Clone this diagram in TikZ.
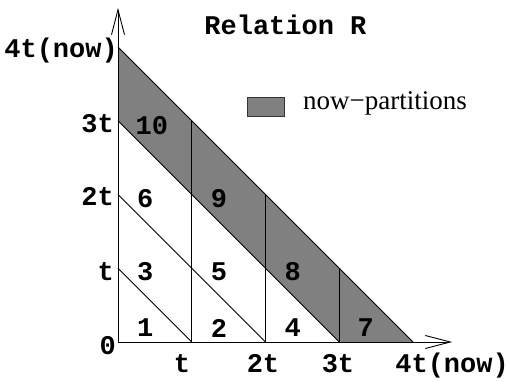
\documentclass[tikz,border=0pt]{standalone}
\usepackage{fontspec}
\setmainfont{Liberation Serif}
\setmonofont{Liberation Mono}
\usepackage{xcolor}
\definecolor{nowgray}{RGB}{128,128,128}
\usetikzlibrary{arrows.meta,calc}
\tikzset{
  axisline/.style={line width=0.9pt, -{Straight Barb[length=25pt,width=13pt,line width=0.9pt]}},
  gridline/.style={line width=0.9pt},
  nowband/.style={fill=nowgray},
  partlabel/.style={font=\fontsize{27}{30}\selectfont\ttfamily\bfseries, inner sep=0pt},
  ticklabel/.style={partlabel},
  legendbox/.style={fill=nowgray, draw=black!80, line width=0.9pt},
  legendtext/.style={font=\fontsize{27}{30}\selectfont, inner sep=0pt, anchor=base west},
}

\begin{document}
\begin{tikzpicture}[x=73.75pt, y=73.75pt]
  \useasboundingbox (-118pt,-40pt) rectangle (393pt,342pt);

  % grid points on both axes and on the now-line
  \coordinate (o) at (0,0);
  \foreach \k in {1,...,4} {
    \coordinate (x\k) at (\k,0);
    \coordinate (y\k) at (0,\k);
  }
  \foreach \k in {1,2,3} \coordinate (top\k) at (\k,4-\k);
  \coordinate (xend) at (4.53,0);
  \coordinate (yend) at (0,4.53);

  % shaded now-partitions
  \fill[nowband] (y3) -- (y4) -- (x4) -- (x3) -- cycle;

  % diagonals and verticals
  \foreach \k in {1,...,4} \draw[gridline] (y\k) -- (x\k);
  \foreach \k in {1,2,3} \draw[gridline] (x\k) -- (top\k);

  % axes
  \draw[axisline] (o) -- (xend);
  \draw[axisline] (o) -- (yend);

  % partition numbers
  \node[partlabel] (p1)  at (0.37,0.19) {1};
  \node[partlabel] (p2)  at (1.37,0.19) {2};
  \node[partlabel] (p4)  at (2.37,0.19) {4};
  \node[partlabel] (p7)  at (3.36,0.19) {7};
  \node[partlabel] (p3)  at (0.37,0.95) {3};
  \node[partlabel] (p5)  at (1.37,0.95) {5};
  \node[partlabel] (p8)  at (2.37,0.95) {8};
  \node[partlabel] (p6)  at (0.37,1.95) {6};
  \node[partlabel] (p9)  at (1.37,1.95) {9};
  \node[partlabel] (p10) at (0.46,2.94) {10};

  % tick labels
  \node[ticklabel, anchor=east] (l0) at (-2pt,-4pt) {0};
  \node[ticklabel, anchor=east] (ly1) at ($(y1)+(-4pt,-3pt)$) {t};
  \node[ticklabel, anchor=east] (ly2) at ($(y2)+(-4pt,-2pt)$) {2t};
  \node[ticklabel, anchor=east] (ly3) at ($(y3)+(-4pt,-3pt)$) {3t};
  \node[ticklabel, anchor=east] (ly4) at ($(y4)+(0pt,-4pt)$) {4t(now)};
  \node[ticklabel, anchor=base] (lx1) at (0.868,-0.42) {t};
  \node[ticklabel, anchor=base] (lx2) at (1.966,-0.42) {2t};
  \node[ticklabel, anchor=base] (lx3) at (2.983,-0.42) {3t};
  \node[ticklabel, anchor=base] (lx4) at (4.53,-0.42) {4t(now)};

  % title and legend
  \node[ticklabel, anchor=base] (title) at (2.27,4.163) {Relation R};
  \draw[legendbox] (1.749,3.064) rectangle (2.251,3.322);
  \node[legendtext] (legend) at (2.508,3.146) {now−partitions};
\end{tikzpicture}
\end{document}
